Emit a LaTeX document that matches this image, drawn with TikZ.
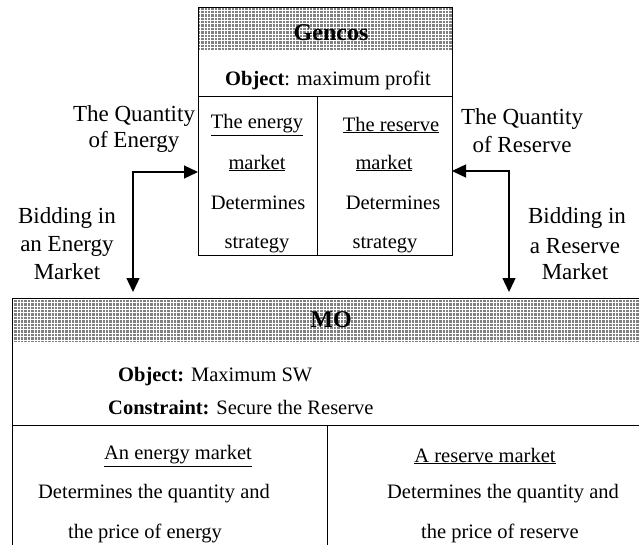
\documentclass[tikz,border=0pt]{standalone}
\usepackage{fontspec}
\setmainfont{Liberation Serif}
\usetikzlibrary{arrows.meta}
\begin{document}
\begin{tikzpicture}[x=1pt,y=-1pt,
  boxtxt/.style={inner sep=0pt,font=\fontsize{20.5}{24}\selectfont},
  lbl/.style={inner sep=0pt,font=\fontsize{23}{27}\selectfont},
  hdr/.style={inner sep=0pt,font=\fontsize{24}{28}\selectfont\bfseries},
  frame/.style={draw=black,line width=1pt},
  hatchfill/.style={fill=black!50},
  conn/.style={line width=1.3pt,{Triangle[length=14pt,width=13pt]}-{Triangle[length=14pt,width=13pt]}}
]
\useasboundingbox (0,0) rectangle (639,544);
\clip (0,0) rectangle (639,544);
% ---------- Gencos box ----------
\fill[hatchfill] (198,7) rectangle (452,50);
\begin{scope}
  \clip (198,7) rectangle (452,50);
  \draw[white,line width=0.7pt,step=3.4pt] (190,0) grid (460,60);
\end{scope}
\node[frame,minimum width=254pt,minimum height=248pt,anchor=north west,inner sep=0pt] (gencos) at (198,7) {};
\draw[line width=0.8pt] (198,96) -- (452,96);
\draw[line width=0.8pt] (317,96) -- (317,255);
\node[hdr] (gtitle) at (331,33) {Gencos};
\node[boxtxt] (gobj) at (328,80) {\textbf{Object}: maximum profit};
\node[boxtxt] (ge1) at (257,125) {\underline{The energy}};
\node[boxtxt] (ge2) at (257,163) {\underline{market}};
\node[boxtxt] (ge3) at (258,203) {Determines};
\node[boxtxt] (ge4) at (257,245) {strategy};
\node[boxtxt] (gr1) at (391,125) {\underline{The reserve}};
\node[boxtxt] (gr2) at (384,163) {\underline{market}};
\node[boxtxt] (gr3) at (393,203) {Determines};
\node[boxtxt] (gr4) at (385,245) {strategy};
% ---------- MO box ----------
\fill[hatchfill] (12,298) rectangle (650,342);
\begin{scope}
  \clip (12,298) rectangle (650,342);
  \draw[white,line width=0.7pt,step=3.4pt] (0,290) grid (660,350);
\end{scope}
\node[frame,minimum width=638pt,minimum height=260pt,anchor=north west,inner sep=0pt] (mo) at (12,298) {};
\draw[line width=0.8pt] (12,425) -- (650,425);
\draw[line width=0.8pt] (327,425) -- (327,560);
\node[hdr] (mtitle) at (331,320) {MO};
\node[boxtxt,anchor=west] (mobj) at (118,377) {\textbf{Object:} Maximum SW};
\node[boxtxt,anchor=west] (mcon) at (108,408) {\textbf{Constraint:} Secure the Reserve};
\node[boxtxt] (me1) at (178,456) {\underline{An energy market}};
\node[boxtxt] (me2) at (154,494) {Determines the quantity and};
\node[boxtxt] (me3) at (145,533) {the price of energy};
\node[boxtxt] (mr1) at (485,456) {\underline{A reserve market}};
\node[boxtxt] (mr2) at (503,494) {Determines the quantity and};
\node[boxtxt] (mr3) at (500,533) {the price of reserve};
% ---------- labels ----------
\node[lbl] (lq1) at (134,116) {The Quantity};
\node[lbl] (lq2) at (134,142) {of Energy};
\node[lbl] (lb1) at (67,218) {Bidding in};
\node[lbl] (lb2) at (67,246) {an Energy};
\node[lbl] (lb3) at (67,272) {Market};
\node[lbl] (rq1) at (522,119) {The Quantity};
\node[lbl] (rq2) at (522,145) {of Reserve};
\node[lbl] (rb1) at (577,218) {Bidding in};
\node[lbl] (rb2) at (575,246) {a Reserve};
\node[lbl] (rb3) at (575,272) {Market};
% ---------- connectors ----------
\coordinate (gl) at (198,172);
\coordinate (gr) at (452,171);
\coordinate (ml) at (133,292);
\coordinate (mr) at (509,292);
\draw[conn] (gl) -| (ml);
\draw[conn] (gr) -| (mr);
\end{tikzpicture}
\end{document}
